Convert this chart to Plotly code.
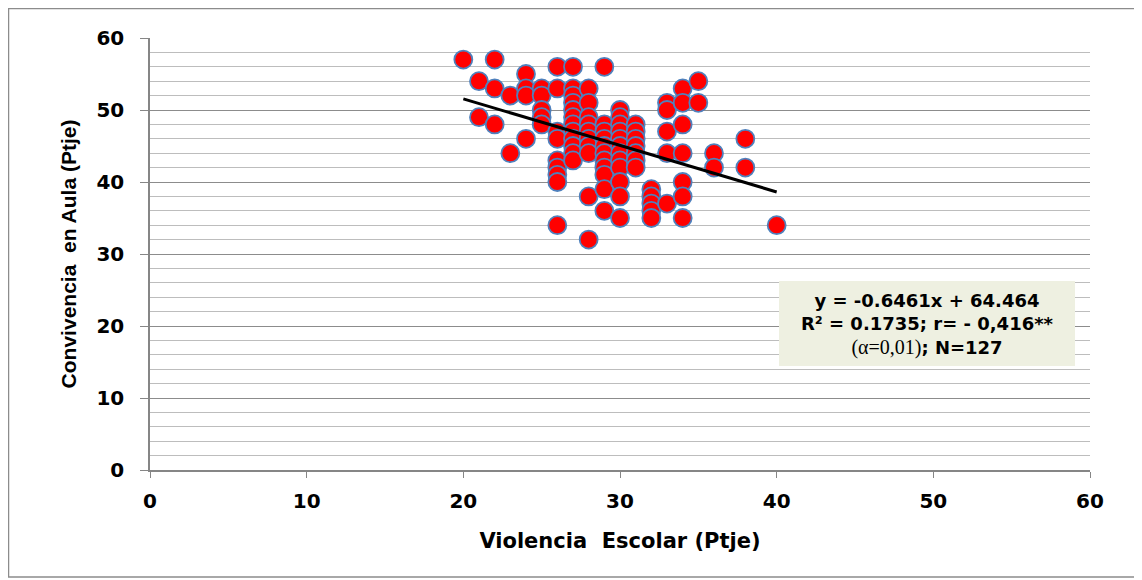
import plotly.graph_objects as go

# Data (Violencia Escolar, Convivencia en Aula)
violencia = (
    [20] + [21]*2 + [22]*3 + [23]*2 + [24]*4 + [25]*5 + [26]*9 + [27]*12 +
    [28]*10 + [29]*11 + [30]*12 + [31]*7 + [32]*5 + [33]*5 + [34]*7 +
    [35]*2 + [36]*2 + [38]*2 + [40]
)
convivencia = (
    [57] +
    [54, 49] +
    [57, 53, 48] +
    [52, 44] +
    [55, 53, 52, 46] +
    [53, 52, 50, 49, 48] +
    [56, 53, 47, 46, 43, 42, 41, 40, 34] +
    [56, 53, 52, 51, 50, 49, 48, 47, 46, 45, 44, 43] +
    [53, 51, 49, 48, 47, 46, 45, 44, 38, 32] +
    [56, 48, 47, 46, 45, 44, 43, 42, 41, 39, 36] +
    [50, 49, 48, 47, 46, 45, 44, 43, 42, 40, 38, 35] +
    [48, 47, 46, 45, 44, 43, 42] +
    [39, 38, 37, 36, 35] +
    [51, 50, 47, 44, 37] +
    [53, 51, 48, 44, 40, 38, 35] +
    [54, 51] +
    [44, 42] +
    [46, 42] +
    [34]
)

slope = -0.6461
intercept = 64.464
trend_x = [20, 40]
trend_y = [slope * x + intercept for x in trend_x]

x_ticks = [0, 10, 20, 30, 40, 50, 60]
y_ticks = [0, 10, 20, 30, 40, 50, 60]

font_wide = "DejaVu Sans, Verdana, sans-serif"
font_arial = "Liberation Sans, Arial, sans-serif"

# the page body has an 8px margin: work in page pixels, subtract offset
OFF = 8
W, H = 1142, 580
L, R, T, B = 150 - OFF, W - (1090 - OFF), 38 - OFF, H - (470 - OFF)
pw, ph = W - L - R, H - T - B

def px_x(px):
    return (px - OFF - L) / pw

def px_y(py):
    return (H - B - (py - OFF)) / ph

fig = go.Figure()
fig.add_trace(go.Scatter(
    x=violencia, y=convivencia, mode="markers",
    marker=dict(color="#ff0000", size=18, line=dict(color="#4f81bd", width=1.8)),
    showlegend=False, hoverinfo="x+y",
))
fig.add_trace(go.Scatter(
    x=trend_x, y=trend_y, mode="lines",
    line=dict(color="#000000", width=3),
    showlegend=False, hoverinfo="skip",
))

fig.update_layout(
    width=W, height=H,
    margin=dict(l=L, r=R, t=T, b=B),
    paper_bgcolor="white", plot_bgcolor="white",
    font=dict(family=font_wide, color="#000000"),
    xaxis=dict(
        range=[0, 60], tickvals=x_ticks, showgrid=False, zeroline=False,
        showline=True, linecolor="#868686", linewidth=1.5,
        ticks="outside", ticklen=6, tickcolor="#868686",
        ticklabelstandoff=6,
        tickfont=dict(size=20, family=font_wide, weight="bold"),
        title=dict(text="<b>Violencia  Escolar (Ptje)</b>",
                   font=dict(size=21, family=font_wide), standoff=22),
    ),
    yaxis=dict(
        range=[0, 60], tickvals=y_ticks, showgrid=True, gridcolor="#8c8c8c",
        gridwidth=1.2, zeroline=False,
        showline=True, linecolor="#868686", linewidth=1.5,
        ticks="outside", ticklen=8, tickcolor="#868686",
        ticklabelstandoff=12,
        tickfont=dict(size=20, family=font_wide, weight="bold"),
        minor=dict(dtick=2, showgrid=True, gridcolor="#bdbdbd", gridwidth=1),
        title=dict(text="<b>Convivencia  en Aula (Ptje)</b>",
                   font=dict(size=21, family=font_arial),
                   standoff=14),
    ),
    shapes=[
        dict(type="rect", xref="paper", yref="paper",
             x0=px_x(8.5), x1=px_x(1139.5),
             y0=px_y(577), y1=px_y(8.5),
             line=dict(color="#8c8c8c", width=1.5), fillcolor="rgba(0,0,0,0)",
             layer="below"),
        dict(type="rect", xref="paper", yref="paper",
             x0=px_x(779), x1=px_x(1075),
             y0=px_y(366), y1=px_y(281),
             line=dict(width=0), fillcolor="#eef0e1", layer="above"),
    ],
    annotations=[
        dict(xref="paper", yref="paper",
             x=px_x(927), y=px_y(324),
             xanchor="center", yanchor="middle", showarrow=False,
             align="center",
             text=("<b>y = -0.6461x + 64.464</b><br>"
                   "<b>R² = 0.1735; r= - 0,416**</b><br>"
                   "<span style=\"font-family:'Liberation Serif', 'Times New Roman', serif; font-size:20px\">(α=0,01)</span><b>; N=127</b>"),
             font=dict(size=18, family=font_wide, color="#000000")),
    ],
)

fig.write_html("out.html")
